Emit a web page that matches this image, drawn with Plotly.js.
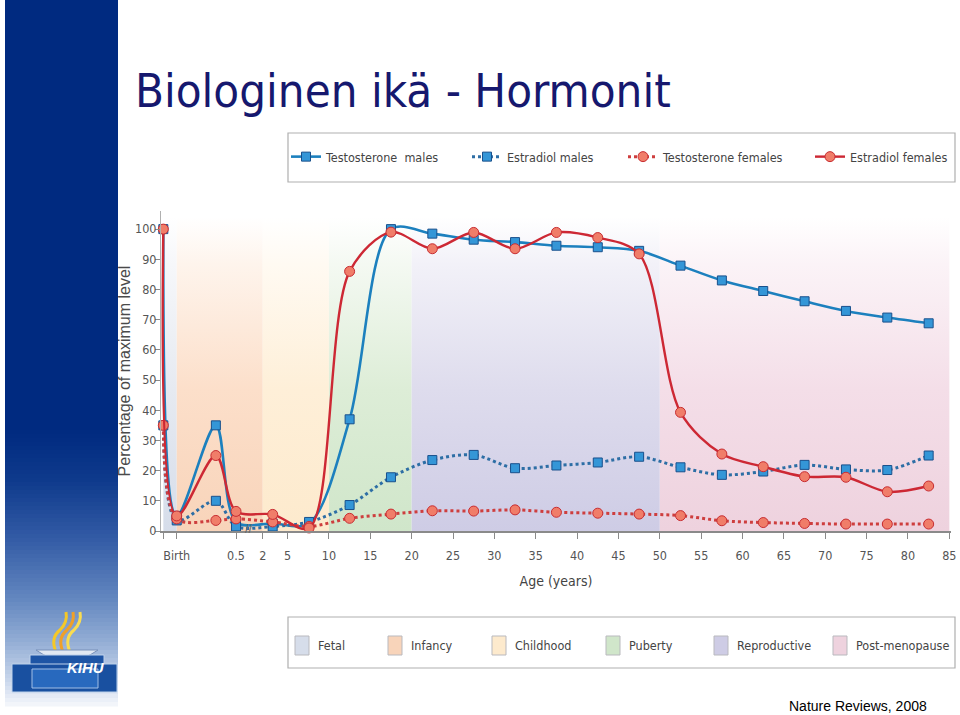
<!DOCTYPE html>
<html>
<head>
<meta charset="utf-8">
<script src="https://cdn.plot.ly/plotly-3.0.1.min.js"></script>
<style>
  html, body { margin: 0; padding: 0; background: #ffffff; }
  #chart { width: 960px; height: 715px; }
</style>
</head>
<body>
<div id="chart"></div>
<script>
// ---------------- DATA ----------------
// Ages in years (negative = fetal period), x-axis is broken/non-linear before age 2
const ages = [-0.25, 0, 0.33, 0.5, 3.2, 7.6, 12.5, 17.5, 22.5, 27.5, 32.5, 37.5, 42.5, 47.5, 52.5, 57.5, 62.5, 67.5, 72.5, 77.5, 82.5];
const testosteroneMales   = [100, 5, 35, 3,   2.5, 2.5, 37,  100,  98.5, 96.5, 95.7, 94.5, 94.0, 92.8, 87.9, 83.0, 79.5, 76.1, 72.9, 70.7, 68.8];
const estradiolMales      = [35,  3.5, 10, 1.5, 1.5, 3,   8.6, 17.8, 23.5, 25.2, 20.8, 21.7, 22.7, 24.6, 21.1, 18.6, 19.7, 21.9, 20.4, 20.2, 25.0];
const testosteroneFemales = [35,  4, 3.5, 4,   3,   1.5, 4.2, 5.6,  6.7,  6.6,  7.0,  6.2,  5.9,  5.6,  5.1,  3.4,  2.8,  2.5,  2.3,  2.3,  2.3];
const estradiolFemales    = [100, 5, 25, 6.5, 5.5, 1,   86,  99,   93.5, 98.9, 93.5, 98.9, 97.2, 91.8, 39.3, 25.5, 21.3, 18.0, 17.8, 13.0, 14.9];
const seriesNames = ['Testosterone  males', 'Estradiol males', 'Testosterone females', 'Estradiol females'];

const phases     = ['Fetal', 'Infancy', 'Childhood', 'Puberty', 'Reproductive', 'Post-menopause'];
const phaseStart = [-0.25, 0, 2, 10, 20, 50];
const phaseEnd   = [0, 2, 10, 20, 50, 85];

const tickAges   = [-0.25, 0, 0.5, 2, 5, 10, 15, 20, 25, 30, 35, 40, 45, 50, 55, 60, 65, 70, 75, 80, 85];
const tickLabels = ['', 'Birth', '0.5', '2', '5', '10', '15', '20', '25', '30', '35', '40', '45', '50', '55', '60', '65', '70', '75', '80', '85'];
const yTicks = [0, 10, 20, 30, 40, 50, 60, 70, 80, 90, 100];

// ---------------- AXIS MAPPING (broken axis) ----------------
const ageAnchors = [-0.25, 0, 0.5, 2, 85];
const posAnchors = [-10.02, -8.4, -1.23, 2, 85];
function agePos(a) {
  for (let i = 0; i < ageAnchors.length - 1; i++) {
    if (a <= ageAnchors[i + 1] || i === ageAnchors.length - 2) {
      const f = (a - ageAnchors[i]) / (ageAnchors[i + 1] - ageAnchors[i]);
      return posAnchors[i] + f * (posAnchors[i + 1] - posAnchors[i]);
    }
  }
}

// ---------------- STYLE ----------------
const NARROW = '"Liberation Sans Narrow", "DejaVu Sans Condensed", "Liberation Sans", sans-serif';
const L = 161, R = 9, T = 211, B = 184, W = 960 - L - R, H = 715 - T - B;
const X = px => (px - L) / W;
const Y = py => (715 - B - py) / H;

const bandBottom = ['rgb(214,221,234)', 'rgb(248,212,186)', 'rgb(253,234,205)', 'rgb(208,230,202)', 'rgb(206,204,229)', 'rgb(238,210,222)'];
const bandMid    = ['rgb(230,234,241)', 'rgb(252,223,202)', 'rgb(254,239,216)', 'rgb(221,237,215)', 'rgb(222,220,237)', 'rgb(244,222,232)'];
const bandTop    = ['rgb(246,247,250)', 'rgb(254,244,236)', 'rgb(255,250,242)', 'rgb(244,249,242)', 'rgb(242,241,248)', 'rgb(251,243,247)'];

const xPos = ages.map(agePos);
const traces = [];

// phase bands
phases.forEach((p, i) => {
  const x0 = agePos(phaseStart[i]), x1 = agePos(phaseEnd[i]);
  traces.push({
    type: 'scatter', mode: 'lines', x: [x0, x1, x1, x0, x0], y: [0, 0, 104, 104, 0],
    fill: 'toself', fillcolor: bandMid[i], line: { width: 0 },
    fillgradient: { type: 'vertical', start: 0, stop: 104,
      colorscale: [[0, bandBottom[i]], [0.45, bandMid[i]], [0.85, bandTop[i]], [1, 'rgb(255,255,255)']] },
    hoverinfo: 'skip', showlegend: false, name: p
  });
});

const BLUE = 'rgb(28,128,190)', BLUE_D = 'rgb(45,110,165)', RED = 'rgb(205,40,52)', RED_D = 'rgb(206,62,62)';
const sq = { symbol: 'square', size: 9, color: 'rgb(52,150,215)', line: { color: 'rgb(25,80,140)', width: 1 } };
const ci = { symbol: 'circle', size: 10, color: 'rgb(240,125,105)', line: { color: 'rgb(200,45,50)', width: 1 } };

const series = [testosteroneMales, estradiolMales, testosteroneFemales, estradiolFemales];
const lineStyles = [
  { color: BLUE, width: 2.6, dash: 'solid' },
  { color: BLUE_D, width: 3, dash: 'dot' },
  { color: RED_D, width: 3, dash: 'dot' },
  { color: RED, width: 2.4, dash: 'solid' }
];
const markers = [sq, sq, ci, ci];
const legendIds = ['legend', 'legend2', 'legend3', 'legend4'];
series.forEach((vals, i) => {
  traces.push({
    type: 'scatter', mode: 'lines+markers', name: seriesNames[i], legend: legendIds[i],
    x: xPos, y: vals, cliponaxis: false,
    line: Object.assign({ shape: 'spline', smoothing: 0.9 }, lineStyles[i]),
    marker: markers[i]
  });
});

// ---------------- SHAPES ----------------
const shapes = [];
// left blue bar with gradient
const barStops = [[0, [0, 42, 128]], [430, [0, 42, 128]], [480, [14, 58, 140]], [540, [52, 92, 166]], [600, [100, 136, 192]], [640, [145, 172, 212]], [680, [200, 214, 235]], [705, [244, 246, 251]]];
function barColor(y) {
  for (let i = 0; i < barStops.length - 1; i++) {
    const [y0, c0] = barStops[i], [y1, c1] = barStops[i + 1];
    if (y <= y1) {
      const f = (y - y0) / (y1 - y0);
      return 'rgb(' + c0.map((c, k) => Math.round(c + f * (c1[k] - c))).join(',') + ')';
    }
  }
  return 'rgb(244,246,251)';
}
shapes.push({ type: 'rect', xref: 'paper', yref: 'paper', x0: X(5), x1: X(118), y0: Y(0), y1: Y(431), fillcolor: barColor(0), line: { width: 0 }, layer: 'below' });
for (let y = 430; y < 705; y += 4) {
  shapes.push({ type: 'rect', xref: 'paper', yref: 'paper', x0: X(5), x1: X(118), y0: Y(y), y1: Y(y + 4.6), fillcolor: barColor(y + 2), line: { width: 0 }, layer: 'below' });
}
// logo (approximate)
function pathPx(cmds) {
  return cmds.map(c => typeof c === 'string' ? c : X(c[0]).toFixed(5) + ',' + Y(c[1]).toFixed(5)).join(' ');
}
const flameCols = ['rgb(245,200,40)', 'rgb(240,160,40)', 'rgb(250,220,80)'];
[[56, 0], [63, 1], [70, 2]].forEach(([x0, k]) => {
  shapes.push({ type: 'path', xref: 'paper', yref: 'paper', layer: 'above',
    path: pathPx(['M', [x0, 652], 'Q', [x0 - 6, 638], [x0 + 4, 630], 'Q', [x0 + 12, 622], [x0 + 10, 612]]),
    line: { color: flameCols[k], width: 3 } });
});
shapes.push({ type: 'path', xref: 'paper', yref: 'paper', path: pathPx(['M', [36, 650], 'Q', [67, 672], [98, 650], 'Z']), fillcolor: 'rgb(225,232,242)', line: { color: 'rgb(120,145,185)', width: 1 } });
shapes.push({ type: 'rect', xref: 'paper', yref: 'paper', x0: X(30), x1: X(104), y0: Y(668), y1: Y(655), fillcolor: 'rgb(30,85,165)', line: { color: 'rgb(190,210,235)', width: 1 } });
shapes.push({ type: 'rect', xref: 'paper', yref: 'paper', x0: X(12), x1: X(117), y0: Y(692), y1: Y(664), fillcolor: 'rgb(25,80,160)', line: { color: 'rgb(190,210,235)', width: 1 } });
shapes.push({ type: 'rect', xref: 'paper', yref: 'paper', x0: X(32), x1: X(98), y0: Y(688), y1: Y(669), fillcolor: 'rgb(40,105,190)', line: { color: 'rgb(160,190,230)', width: 1 } });

// top legend box
shapes.push({ type: 'rect', xref: 'paper', yref: 'paper', x0: X(288), x1: X(955), y0: Y(182), y1: Y(133), fillcolor: 'rgba(255,255,255,0)', line: { color: 'rgb(175,175,175)', width: 1.2 } });
// bottom legend box
shapes.push({ type: 'rect', xref: 'paper', yref: 'paper', x0: X(288), x1: X(955), y0: Y(668), y1: Y(617), fillcolor: 'rgba(255,255,255,0)', line: { color: 'rgb(175,175,175)', width: 1.2 } });

const swatchX = [295, 388, 492, 606, 714, 833];
const annotations = [];
phases.forEach((p, i) => {
  shapes.push({ type: 'rect', xref: 'paper', yref: 'paper', x0: X(swatchX[i]), x1: X(swatchX[i] + 14), y0: Y(655), y1: Y(636), fillcolor: bandBottom[i], line: { color: 'rgb(185,185,190)', width: 1 } });
  annotations.push({ xref: 'paper', yref: 'paper', x: X(swatchX[i] + 21), y: Y(645), xanchor: 'left', yanchor: 'middle', text: p, showarrow: false, font: { family: NARROW, size: 12.5, color: '#444' } });
});

// axis break mark
annotations.push({ xref: 'x', yref: 'y', x: (agePos(0.5) + agePos(2)) / 2, y: 0, yshift: 3, text: '//', showarrow: false, font: { family: 'Liberation Sans, sans-serif', size: 13, color: '#666' } });
// logo text
annotations.push({ xref: 'paper', yref: 'paper', x: X(65), y: Y(678), text: '<b><i>KIHU</i></b>', showarrow: false, font: { family: 'Liberation Sans, sans-serif', size: 15, color: '#ffffff' } });
// source
annotations.push({ xref: 'paper', yref: 'paper', x: X(929), y: Y(706), xanchor: 'right', yanchor: 'middle', text: 'Nature Reviews, 2008', showarrow: false, font: { family: 'Liberation Sans, Arial, sans-serif', size: 14, color: '#000' } });

// legends: one per series, placed like the reference
const legendSymbolX = [306, 487, 643, 830];
const legendFont = { family: NARROW, size: 12.5, color: '#444' };
const layout = {
  width: 960, height: 715,
  margin: { l: L, r: R, t: T, b: B, pad: 0, autoexpand: false },
  paper_bgcolor: '#ffffff', plot_bgcolor: 'rgba(0,0,0,0)',
  title: { text: 'Biologinen ikä - Hormonit', xref: 'container', yref: 'container', x: 135 / 960, xanchor: 'left', y: 1 - 91 / 715, yanchor: 'middle',
    font: { family: NARROW, size: 47, color: 'rgb(22,24,110)' } },
  showlegend: true,
  xaxis: { range: [-10.3, 85.2], tickmode: 'array', tickvals: tickAges.map(agePos), ticktext: tickLabels,
    ticks: 'outside', ticklen: 6, tickcolor: '#8a8a8a', tickwidth: 1.2, showline: true, linecolor: '#8a8a8a', linewidth: 1.5,
    showgrid: false, zeroline: false, ticklabelstandoff: 6,
    tickfont: { family: NARROW, size: 12.5, color: '#555' },
    title: { text: 'Age (years)', standoff: 14, font: { family: NARROW, size: 14, color: '#444' } } },
  yaxis: { range: [0, 106], tickmode: 'array', tickvals: yTicks, ticks: 'outside', ticklen: 5, tickcolor: '#8a8a8a',
    showline: true, linecolor: '#b0b0b0', linewidth: 1, showgrid: false, zeroline: false, ticklabelstandoff: -4,
    tickfont: { family: NARROW, size: 12.5, color: '#555' },
    title: { text: 'Percentage of maximum level', standoff: 0, font: { family: 'Liberation Sans, Arial, sans-serif', size: 16, color: '#4a4a4a' } } },
  shapes: shapes,
  annotations: annotations
};
legendIds.forEach((id, i) => {
  layout[id] = { orientation: 'h', x: X(legendSymbolX[i] - 20), xanchor: 'left', y: Y(157), yanchor: 'middle',
    bgcolor: 'rgba(0,0,0,0)', borderwidth: 0, font: legendFont };
});

Plotly.newPlot('chart', traces, layout, { displayModeBar: false, responsive: false });
</script>
</body>
</html>
